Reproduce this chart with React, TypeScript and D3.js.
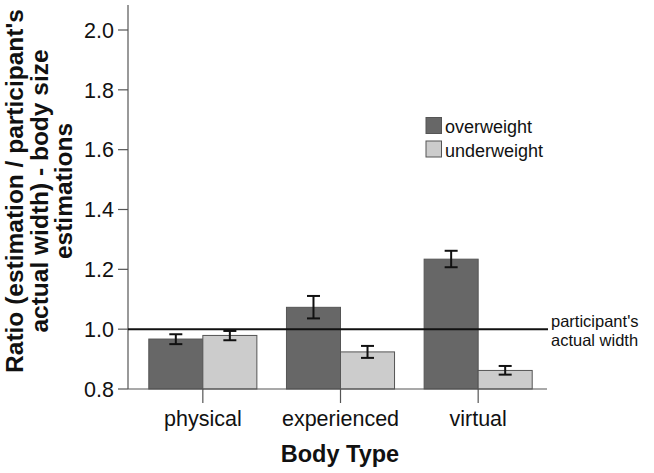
import React from "react";
import * as d3 from "d3";

const categories = ["physical", "experienced", "virtual"];
const seriesNames = ["overweight", "underweight"];
const overweightMean = [0.967, 1.073, 1.234];
const overweightLow = [0.95, 1.036, 1.207];
const overweightHigh = [0.983, 1.111, 1.262];
const underweightMean = [0.979, 0.924, 0.862];
const underweightLow = [0.963, 0.904, 0.848];
const underweightHigh = [0.994, 0.944, 0.877];
const yTicks = [0.8, 1.0, 1.2, 1.4, 1.6, 1.8, 2.0];
const referenceValue = 1.0;
const referenceLabel = ["participant's", "actual width"];
const yTitle = ["Ratio (estimation / participant's", "actual width) - body size", "estimations"];
const xTitle = "Body Type";

const colors = ["#676767", "#cccccc"];
const FONT = "'Liberation Sans', Arial, sans-serif";

export default function App() {
  const W = 654, H = 473;
  const axisX = 128;
  const y = d3.scaleLinear().domain([0.8, 2.0]).range([389, 30]);
  const x = d3.scaleBand().domain(categories).range([134, 547]).paddingInner(0.215).paddingOuter(0.1075);
  const sub = d3.scaleBand().domain(seriesNames).range([0, x.bandwidth()]);
  const series = [
    { name: seriesNames[0], mean: overweightMean, lo: overweightLow, hi: overweightHigh },
    { name: seriesNames[1], mean: underweightMean, lo: underweightLow, hi: underweightHigh },
  ];
  const y0 = y(0.8);
  return (
    <svg width={W} height={H} style={{ position: "absolute", left: 0, top: 0, background: "#fff" }} fontFamily={FONT}>
      {/* bars */}
      {series.map((s, si) =>
        categories.map((c, ci) => {
          const bx = (x(c) as number) + (sub(s.name) as number);
          const by = y(s.mean[ci]);
          return (
            <rect key={s.name + c} x={bx} y={by} width={sub.bandwidth()} height={y0 - by}
              fill={colors[si]} stroke="#555" strokeWidth={1} />
          );
        })
      )}
      {/* error bars */}
      {series.map((s, si) =>
        categories.map((c, ci) => {
          const cx = (x(c) as number) + (sub(s.name) as number) + sub.bandwidth() / 2;
          const ylo = y(s.lo[ci]);
          const yhi = y(s.hi[ci]);
          return (
            <g key={"e" + s.name + c} stroke="#111" strokeWidth={2}>
              <line x1={cx} x2={cx} y1={ylo} y2={yhi} />
              <line x1={cx - 6.5} x2={cx + 6.5} y1={ylo} y2={ylo} />
              <line x1={cx - 6.5} x2={cx + 6.5} y1={yhi} y2={yhi} />
            </g>
          );
        })
      )}
      {/* axes */}
      <line x1={axisX} x2={axisX} y1={5} y2={y0} stroke="#555" strokeWidth={1.2} />
      <line x1={axisX} x2={547} y1={y0} y2={y0} stroke="#555" strokeWidth={1.2} />
      {yTicks.map((t) => (
        <g key={t}>
          <line x1={axisX - 10} x2={axisX} y1={y(t)} y2={y(t)} stroke="#555" strokeWidth={1.2} />
          <text x={axisX - 14} y={y(t)} dy="0.36em" textAnchor="end" fontSize={21.5} fill="#111">
            {d3.format(".1f")(t)}
          </text>
        </g>
      ))}
      {categories.map((c) => {
        const cx = (x(c) as number) + x.bandwidth() / 2;
        return (
          <g key={c}>
            <line x1={cx} x2={cx} y1={y0} y2={y0 + 14} stroke="#555" strokeWidth={1.2} />
            <text x={cx} y={426} textAnchor="middle" fontSize={21.5} fill="#111">{c}</text>
          </g>
        );
      })}
      {/* reference line */}
      <line x1={axisX} x2={548} y1={y(referenceValue)} y2={y(referenceValue)} stroke="#111" strokeWidth={2} />
      {referenceLabel.map((l, i) => (
        <text key={l} x={551} y={y(referenceValue) - 2 + i * 18.5} fontSize={16.5} fill="#111">{l}</text>
      ))}
      {/* legend */}
      {seriesNames.map((n, i) => (
        <g key={n}>
          <rect x={426} y={117.5 + i * 23.5} width={15.5} height={16} fill={colors[i]} stroke="#555" strokeWidth={1} />
          <text x={445} y={133 + i * 23.5} fontSize={18} fill="#111">{n}</text>
        </g>
      ))}
      {/* titles */}
      <text x={340} y={462} textAnchor="middle" fontSize={23.5} fontWeight="bold" fill="#111">{xTitle}</text>
      <g transform="translate(0,191) rotate(-90)">
        {yTitle.map((l, i) => (
          <text key={l} x={0} y={23 + i * 24.5} textAnchor="middle" fontSize={24.5} fontWeight="bold" fill="#111">{l}</text>
        ))}
      </g>
    </svg>
  );
}
